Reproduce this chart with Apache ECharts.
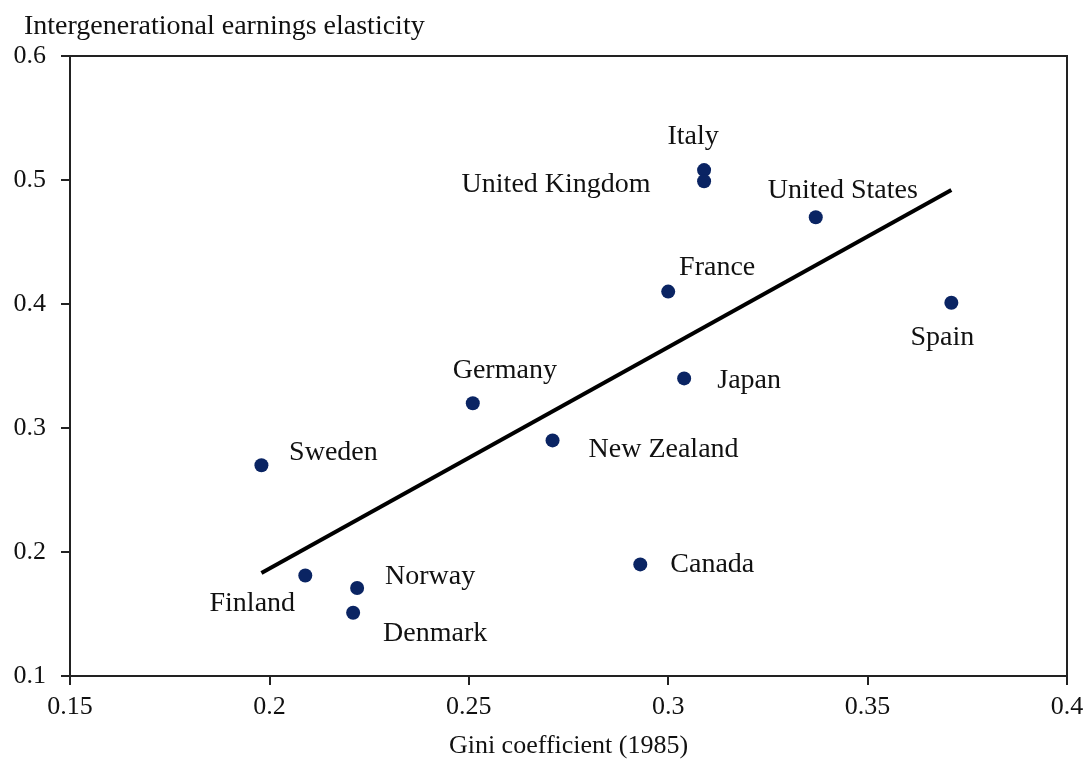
<!DOCTYPE html>
<html>
<head>
<meta charset="utf-8">
<script src="https://cdn.jsdelivr.net/npm/echarts@6/dist/echarts.min.js"></script>
<style>
  html, body { margin: 0; padding: 0; background: #fff; }
  #chart { width: 1087px; height: 769px; }
</style>
</head>
<body>
<div id="chart"></div>
<script>
const countries = ['Italy', 'United Kingdom', 'United States', 'France', 'Spain', 'Japan', 'Germany',
  'New Zealand', 'Sweden', 'Canada', 'Finland', 'Norway', 'Denmark']
const gini = [0.309, 0.309, 0.337, 0.300, 0.371, 0.304, 0.251, 0.271, 0.198, 0.293, 0.209, 0.222, 0.221]
const elasticity = [0.508, 0.499, 0.470, 0.410, 0.401, 0.340, 0.320, 0.290, 0.270, 0.190, 0.181, 0.171, 0.151]
const trendX = [0.198, 0.371]
const trendY = [0.183, 0.492]

// label offsets from dot centre (px)
const labelOffsets = [[-11, -33], [-148, 3], [27, -27], [49, -24], [-9, 35], [65, 2], [32, -33],
  [111, 9], [72, -13], [72, 0], [-53, 28], [73, -11], [82, 21]]

const font = 'Liberation Serif'
const textColor = '#111'

const chart = echarts.init(document.getElementById('chart'))

const points = countries.map((name, i) => ({
  name: name,
  value: [gini[i], elasticity[i]],
  label: { offset: labelOffsets[i] }
}))

const option = {
  animation: false,
  title: {
    text: 'Intergenerational earnings elasticity',
    left: 19,
    top: 8,
    textStyle: { fontFamily: font, fontSize: 28, fontWeight: 'normal', color: textColor }
  },
  grid: {
    left: 70,
    right: 20,
    top: 56,
    bottom: 93,
    show: true,
    borderColor: '#222',
    borderWidth: 2
  },
  xAxis: {
    type: 'value',
    min: 0.15,
    max: 0.4,
    interval: 0.05,
    name: 'Gini coefficient (1985)',
    nameLocation: 'middle',
    nameGap: 57,
    nameTextStyle: { fontFamily: font, fontSize: 26, color: textColor },
    splitLine: { show: false },
    axisLine: { lineStyle: { color: '#222', width: 2 } },
    axisTick: { length: 9, lineStyle: { color: '#222', width: 2 } },
    axisLabel: {
      margin: 18,
      fontFamily: font,
      fontSize: 26,
      color: textColor,
      formatter: (v) => String(+v.toFixed(2))
    }
  },
  yAxis: {
    type: 'value',
    min: 0.1,
    max: 0.6,
    interval: 0.1,
    splitLine: { show: false },
    axisLine: { lineStyle: { color: '#222', width: 2 } },
    axisTick: { length: 9, lineStyle: { color: '#222', width: 2 } },
    axisLabel: {
      margin: 24,
      fontFamily: font,
      fontSize: 26,
      color: textColor,
      formatter: (v) => String(+v.toFixed(1))
    }
  },
  series: [
    {
      type: 'line',
      data: trendX.map((x, i) => [x, trendY[i]]),
      showSymbol: false,
      lineStyle: { color: '#000', width: 4 },
      z: 2
    },
    {
      type: 'scatter',
      data: points,
      symbolSize: 14,
      itemStyle: { color: '#0a2463', opacity: 1 },
      label: {
        show: true,
        position: 'inside',
        formatter: '{b}',
        fontFamily: font,
        fontSize: 28,
        color: textColor
      },
      z: 3
    }
  ]
}

chart.setOption(option)
</script>
</body>
</html>
